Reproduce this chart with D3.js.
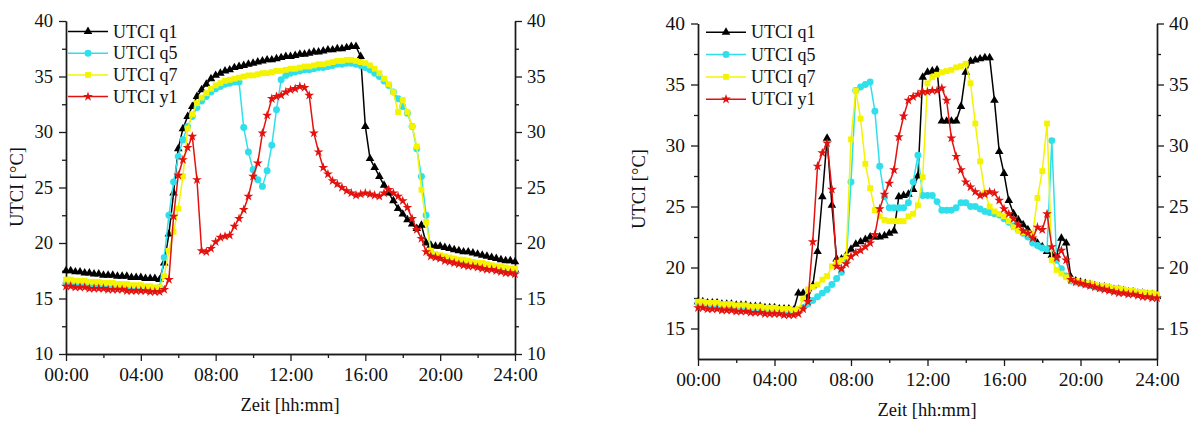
<!DOCTYPE html>
<html>
<head>
<meta charset="utf-8">
<script src="https://cdn.jsdelivr.net/npm/d3@7"></script>
<style>
  body { margin: 0; background: #fff; }
  svg { display: block; font-family: "Liberation Serif", "Times New Roman", serif; }
</style>
</head>
<body>
<svg id="chart" width="1189" height="422"></svg>
<script>
// UTCI day courses, one value every 15 minutes from 00:00 to 24:00 (97 values per series)
const stepHours = 0.25;
const timeTickLabels = ["00:00", "04:00", "08:00", "12:00", "16:00", "20:00", "24:00"];
const seriesNames = ["UTCI q1", "UTCI q5", "UTCI q7", "UTCI y1"];

// ---- left panel ----
const leftQ1 = [
  17.5,17.5,17.4,17.4, 17.3,17.3,17.2,17.2, 17.1,17.1,17.1,17.0, 17.0,17.0,16.9,16.9,
  16.9,16.8,16.8,16.8, 16.7,18.2,20.8,24.5, 28.5,30.3,31.4,32.3, 33.2,33.8,34.3,34.8,
  35.1,35.3,35.5,35.6, 35.8,35.9,36.0,36.1, 36.2,36.3,36.4,36.5, 36.5,36.6,36.7,36.8,
  36.8,36.9,37.0,37.0, 37.1,37.2,37.2,37.3, 37.4,37.4,37.5,37.5, 37.6,37.7,37.7,36.8,
  30.5,27.6,26.8,26.0, 25.2,24.5,23.8,23.1, 22.6,22.1,21.7,21.3, 21.6,20.0,19.8,19.7,
  19.7,19.6,19.5,19.4, 19.3,19.2,19.2,19.1, 19.0,18.9,18.8,18.7, 18.6,18.5,18.4,18.4,
  18.3
];
const leftQ5 = [
  16.4,16.4,16.3,16.3, 16.3,16.2,16.2,16.2, 16.2,16.1,16.1,16.1, 16.1,16.0,16.0,16.0,
  16.0,15.9,15.9,15.9, 16.0,18.7,22.5,25.5, 27.8,29.3,30.5,31.4, 32.2,32.8,33.2,33.6,
  33.9,34.1,34.3,34.4, 34.5,34.5,30.4,28.2, 26.6,25.7,25.1,26.5, 28.8,32.0,34.7,35.1,
  35.3,35.4,35.5,35.6, 35.6,35.7,35.8,35.8, 35.9,36.0,36.1,36.1, 36.2,36.2,36.1,36.0,
  35.8,35.6,35.3,35.0, 34.6,34.2,33.6,33.0, 32.3,31.7,30.5,28.5, 26.0,22.5,19.2,18.9,
  18.7,18.6,18.5,18.4, 18.3,18.2,18.2,18.1, 18.0,17.9,17.9,17.8, 17.7,17.6,17.6,17.5,
  17.4
];
const leftQ7 = [
  16.7,16.7,16.6,16.6, 16.6,16.5,16.5,16.5, 16.4,16.4,16.4,16.3, 16.3,16.3,16.2,16.2,
  16.2,16.1,16.1,16.0, 16.0,17.0,19.3,21.0, 23.1,26.0,30.3,31.6, 32.6,33.1,33.5,33.9,
  34.2,34.4,34.6,34.7, 34.8,34.9,35.0,35.1, 35.1,35.2,35.3,35.3, 35.4,35.5,35.5,35.6,
  35.7,35.7,35.8,35.9, 35.9,36.0,36.1,36.1, 36.2,36.3,36.4,36.4, 36.5,36.5,36.4,36.3,
  36.2,36.0,35.7,35.3, 34.8,34.3,33.6,31.8, 32.9,31.8,30.5,28.7, 24.8,21.9,19.3,19.0,
  18.9,18.8,18.7,18.6, 18.5,18.5,18.4,18.3, 18.2,18.2,18.1,18.0, 17.9,17.9,17.8,17.7,
  17.7
];
const leftY1 = [
  16.1,16.1,16.0,16.0, 16.0,15.9,15.9,15.9, 15.9,15.8,15.8,15.8, 15.8,15.7,15.7,15.7,
  15.7,15.7,15.6,15.6, 15.6,15.8,16.7,22.4, 26.1,27.5,28.6,29.6, 25.7,19.3,19.2,19.5,
  20.1,20.5,20.6,20.7, 21.5,22.2,23.0,24.2, 26.0,27.2,29.9,31.5, 33.0,33.2,33.3,33.6,
  33.8,33.9,34.1,34.0, 33.3,29.9,28.2,26.8, 26.2,25.6,25.3,25.0, 24.7,24.5,24.3,24.4,
  24.5,24.4,24.3,24.2, 24.5,24.8,24.5,24.2, 23.8,23.2,22.2,21.2, 20.4,19.2,18.8,18.7,
  18.6,18.4,18.3,18.2, 18.1,18.0,17.9,17.9, 17.8,17.7,17.6,17.6, 17.5,17.4,17.3,17.3,
  17.2
];

// ---- right panel ----
const rightQ1 = [
  17.2,17.2,17.1,17.1, 17.1,17.0,17.0,17.0, 16.9,16.9,16.9,16.8, 16.8,16.8,16.7,16.7,
  16.7,16.6,16.6,16.6, 16.5,17.9,17.9,17.5, 18.5,21.3,25.8,30.6, 25.1,20.7,20.7,21.0,
  21.5,21.9,22.1,22.3, 22.5,22.5,22.5,22.6, 22.8,23.0,25.8,25.9, 26.0,26.4,27.5,35.6,
  36.0,36.1,36.2,32.0, 32.0,32.0,32.0,33.2, 36.0,36.9,37.0,37.1, 37.2,37.2,33.7,29.5,
  27.7,25.5,24.4,23.9, 23.5,23.1,22.5,22.0, 21.7,21.3,21.0,21.0, 22.4,22.0,19.2,18.9,
  18.8,18.7,18.6,18.5, 18.4,18.4,18.3,18.2, 18.2,18.1,18.0,18.0, 17.9,17.9,17.8,17.8,
  17.7
];
const rightQ5 = [
  17.1,17.1,17.0,17.0, 17.0,16.9,16.9,16.9, 16.8,16.8,16.8,16.7, 16.7,16.7,16.6,16.6,
  16.6,16.5,16.5,16.5, 16.4,16.5,16.7,17.0, 17.3,17.6,17.9,18.2, 18.6,19.1,19.6,20.5,
  27.0,34.5,34.8,35.0, 35.2,32.8,28.3,25.8, 24.9,24.9,24.9,24.9, 25.3,27.0,29.2,25.9,
  25.9,25.9,25.4,24.7, 24.7,24.7,24.9,25.3, 25.3,25.0,25.0,24.8, 24.6,24.5,24.4,24.3,
  24.0,23.7,23.4,23.1, 22.8,22.5,22.0,21.8, 21.6,21.5,30.4,20.6, 19.9,19.3,18.9,18.8,
  18.7,18.6,18.5,18.4, 18.3,18.3,18.2,18.1, 18.1,18.0,17.9,17.9, 17.8,17.8,17.7,17.7,
  17.6
];
const rightQ7 = [
  17.2,17.2,17.1,17.1, 17.1,17.0,17.0,17.0, 16.9,16.9,16.9,16.8, 16.8,16.8,16.7,16.7,
  16.7,16.6,16.6,16.6, 16.5,16.6,17.4,18.2, 18.4,18.6,19.0,19.3, 20.1,20.4,20.6,20.9,
  30.5,34.5,32.2,28.5, 26.5,24.7,24.2,23.9, 23.8,23.8,23.8,23.8, 24.2,24.4,25.1,27.4,
  35.1,35.6,35.8,36.0, 36.1,36.2,36.4,36.5, 36.7,35.1,31.8,28.7, 26.1,25.0,24.6,24.4,
  24.2,23.8,23.3,23.0, 22.9,22.8,22.7,25.7, 27.9,31.8,20.6,19.8, 19.5,19.2,19.0,18.9,
  18.8,18.7,18.7,18.6, 18.5,18.5,18.4,18.3, 18.3,18.2,18.1,18.1, 18.0,18.0,17.9,17.9,
  17.8
];
const rightY1 = [
  16.7,16.7,16.6,16.6, 16.6,16.5,16.5,16.5, 16.4,16.4,16.4,16.3, 16.3,16.3,16.2,16.2,
  16.2,16.2,16.1,16.1, 16.1,16.2,16.6,17.2, 22.1,28.3,29.4,30.2, 26.4,20.1,19.9,20.3,
  20.9,21.2,21.4,21.7, 22.0,22.7,24.8,26.0, 26.9,28.0,30.7,32.4, 33.7,34.0,34.2,34.4,
  34.4,34.5,34.5,34.7, 33.7,30.6,29.1,28.0, 27.0,26.6,26.2,25.9, 26.0,26.2,26.1,25.5,
  24.8,24.4,24.0,23.5, 23.0,22.8,22.4,23.3, 23.1,24.4,21.7,20.8, 21.4,20.6,19.0,18.8,
  18.7,18.6,18.5,18.4, 18.3,18.2,18.1,18.0, 17.9,17.9,17.8,17.8, 17.7,17.6,17.6,17.5,
  17.5
];

// styling per series (line colour + marker symbol)
const seriesColors = ["#000000", "#2fe0ec", "#f4f400", "#e3120f"];
const seriesSymbols = [d3.symbolTriangle, d3.symbolCircle, d3.symbolSquare, d3.symbolStar];
const symbolSizes = [32, 38, 34, 30];

const svg = d3.select("#chart");

const panels = [
  {
    series: [leftQ1, leftQ5, leftQ7, leftY1],
    left: 66, right: 515, top: 21, bottom: 354,
    yDomain: [10, 40], yMajor: [10, 15, 20, 25, 30, 35, 40], yMinor: [12.5, 17.5, 22.5, 27.5, 32.5, 37.5],
    yFont: 18.5,
    legendX: 68, legendY: 31.5, legendStep: 21.7,
    yTitleX: 23, yTitleY: 187, xTitleX: 290, xTitleY: 411
  },
  {
    series: [rightQ1, rightQ5, rightQ7, rightY1],
    left: 698, right: 1157, top: 23.5, bottom: 359,
    yDomain: [12.5, 40], yMajor: [15, 20, 25, 30, 35, 40], yMinor: [17.5, 22.5, 27.5, 32.5, 37.5],
    yFont: 19.5,
    legendX: 706, legendY: 32.3, legendStep: 22.3,
    yTitleX: 645, yTitleY: 189, xTitleX: 927, xTitleY: 416
  }
];

const axisColor = "#1a1a1a";

function styleAxis(sel, fontSize) {
  sel.select(".domain").attr("stroke", axisColor).attr("stroke-width", 1.4);
  sel.selectAll(".tick line").attr("stroke", axisColor).attr("stroke-width", 1.3);
  sel.selectAll(".tick text").attr("fill", "#111").attr("font-size", fontSize)
     .attr("font-family", "Liberation Serif, Times New Roman, serif");
}

panels.forEach(p => {
  const x = d3.scaleLinear().domain([0, 24]).range([p.left, p.right]);
  const y = d3.scaleLinear().domain(p.yDomain).range([p.bottom, p.top]);
  const g = svg.append("g");

  // axes: minor ticks first, then major ticks with labels
  const xMajor = timeTickLabels.map((_, i) => i * 4);
  const xMinor = [2, 6, 10, 14, 18, 22];

  g.append("g").attr("transform", `translate(0,${p.bottom})`)
    .call(d3.axisBottom(x).tickValues(xMinor).tickSize(4).tickSizeOuter(0).tickFormat(""))
    .call(s => styleAxis(s, 19.5));
  g.append("g").attr("transform", `translate(0,${p.bottom})`)
    .call(d3.axisBottom(x).tickValues(xMajor).tickSize(7).tickPadding(6).tickSizeOuter(0)
      .tickFormat(d => timeTickLabels[d / 4]))
    .call(s => styleAxis(s, 19.5));

  [[d3.axisLeft, p.left, 6], [d3.axisRight, p.right, 5]].forEach(([axisFn, xPos, pad]) => {
    g.append("g").attr("transform", `translate(${xPos},0)`)
      .call(axisFn(y).tickValues(p.yMinor).tickSize(4).tickSizeOuter(0).tickFormat(""))
      .call(s => styleAxis(s, p.yFont));
    g.append("g").attr("transform", `translate(${xPos},0)`)
      .call(axisFn(y).tickValues(p.yMajor).tickSize(7).tickPadding(pad).tickSizeOuter(0).tickFormat(d3.format("d")))
      .call(s => styleAxis(s, p.yFont));
  });

  // axis titles
  g.append("text")
    .attr("transform", `translate(${p.yTitleX},${p.yTitleY}) rotate(-90)`)
    .attr("text-anchor", "middle").attr("font-size", 18.5).attr("fill", "#111")
    .text("UTCI [°C]");
  g.append("text")
    .attr("x", p.xTitleX).attr("y", p.xTitleY)
    .attr("text-anchor", "middle").attr("font-size", 18.5).attr("fill", "#111")
    .text("Zeit [hh:mm]");

  // series: lines with markers, drawn in legend order
  const line = d3.line().x((d, i) => x(i * stepHours)).y(d => y(d));
  p.series.forEach((vals, si) => {
    const sg = g.append("g");
    sg.append("path").datum(vals)
      .attr("d", line).attr("fill", "none")
      .attr("stroke", seriesColors[si]).attr("stroke-width", 1.5)
      .attr("stroke-linejoin", "round");
    const sym = d3.symbol().type(seriesSymbols[si]).size(symbolSizes[si]);
    sg.selectAll("path.mk").data(vals).join("path")
      .attr("class", "mk")
      .attr("transform", (d, i) => `translate(${x(i * stepHours)},${y(d)})`)
      .attr("d", sym)
      .attr("fill", seriesColors[si]);
  });

  // legend
  const lg = g.append("g");
  seriesNames.forEach((name, si) => {
    const ly = p.legendY + si * p.legendStep;
    lg.append("line")
      .attr("x1", p.legendX).attr("x2", p.legendX + 40)
      .attr("y1", ly).attr("y2", ly)
      .attr("stroke", seriesColors[si]).attr("stroke-width", 1.5);
    lg.append("path")
      .attr("transform", `translate(${p.legendX + 20},${ly})`)
      .attr("d", d3.symbol().type(seriesSymbols[si]).size(symbolSizes[si])())
      .attr("fill", seriesColors[si]);
    lg.append("text")
      .attr("x", p.legendX + 45).attr("y", ly + 6)
      .attr("font-size", 18).attr("fill", "#111")
      .text(name);
  });
});
</script>
</body>
</html>
